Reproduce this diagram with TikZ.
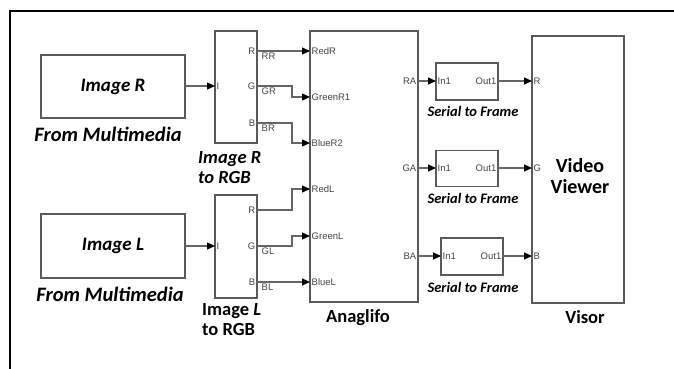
\documentclass[tikz,border=0pt]{standalone}
\usepackage{fontspec}
\setmainfont{Carlito}
\newfontfamily\portfont{Liberation Sans}
\usetikzlibrary{arrows.meta,positioning}
\definecolor{wiregray}{HTML}{666666}
\definecolor{boxgray}{HTML}{5A5A5A}
\definecolor{portgray}{HTML}{444444}
\tikzset{
  block/.style={draw=boxgray,line width=1.1pt,fill=white,inner sep=0pt},
  port/.style={font=\portfont\fontsize{9.5}{10}\selectfont,text=portgray,inner sep=1.5pt},
  wire/.style={draw=wiregray,line width=1.1pt,-{Triangle[length=8pt,width=7pt,fill=black,color=black]}},
  caption/.style={font=\fontsize{18.5}{20}\selectfont\bfseries,inner sep=0pt,align=left},
  scap/.style={font=\fontsize{14.5}{16}\selectfont\bfseries\itshape,inner sep=0pt}
}
\begin{document}
\begin{tikzpicture}[x=1pt,y=-1pt]
\useasboundingbox (0,0) rectangle (674,369);
% frame
\draw[line width=1.6pt] (10,369) -- (10,11) -- (674,11);
% blocks
\node[block,minimum width=144pt,minimum height=63pt,font=\fontsize{19}{20}\selectfont\bfseries\itshape] (imgR) at (113,86.5) {Image R};
\node[block,minimum width=144pt,minimum height=64pt,font=\fontsize{19}{20}\selectfont\bfseries\itshape] (imgL) at (113,246) {Image L};
\node[block,minimum width=42pt,minimum height=112pt] (rgbR) at (236,87) {};
\node[block,minimum width=42pt,minimum height=103pt] (rgbL) at (236,246.5) {};
\node[block,minimum width=108pt,minimum height=271pt] (anag) at (364,166.5) {};
\node[block,minimum width=62pt,minimum height=37pt] (sfA) at (467,81.5) {};
\node[block,minimum width=62pt,minimum height=36pt] (sfB) at (467,168.5) {};
\node[block,minimum width=62pt,minimum height=37pt] (sfC) at (472,256.5) {};
\node[block,minimum width=92pt,minimum height=267pt] (view) at (578,169.5) {};
% captions
\node[caption,font=\fontsize{20.5}{22}\selectfont\bfseries\itshape] (capimgR) at (108,134) {From Multimedia};
\node[caption,font=\fontsize{20.5}{22}\selectfont\bfseries\itshape] (capimgL) at (110,294) {From Multimedia};
\node[caption,anchor=west,font=\fontsize{18.5}{20}\selectfont\bfseries\itshape] (caprgbR) at (198,168) {Image R\\to RGB};
\node[caption,anchor=west] (caprgbL) at (202,320) {Image \textit{L}\\to RGB};
\node[caption] (capanag) at (358,318) {Anaglifo};
\node[scap] (capsfA) at (473,111) {Serial to Frame};
\node[scap] (capsfB) at (473,198) {Serial to Frame};
\node[scap] (capsfC) at (473,287) {Serial to Frame};
\node[caption] (capview) at (585,317) {Visor};
\node[caption,align=center,font=\fontsize{20}{21}\selectfont\bfseries] (txtview) at (580,176) {Video\\Viewer};
% ports
\coordinate (imgRout) at (185,86);
\coordinate (imgLout) at (185,246);
\coordinate (rgbRin) at (215,86);
\coordinate (rgbLin) at (215,246);
\coordinate (rgbRr) at (257,51);
\coordinate (rgbRg) at (257,86);
\coordinate (rgbRb) at (257,123);
\coordinate (rgbLr) at (257,210);
\coordinate (rgbLg) at (257,246);
\coordinate (rgbLb) at (257,282);
\coordinate (inRedR) at (310,51);
\coordinate (inGreenR) at (310,97);
\coordinate (inBlueR) at (310,143);
\coordinate (inRedL) at (310,189);
\coordinate (inGreenL) at (310,236);
\coordinate (inBlueL) at (310,282);
\coordinate (outRA) at (418,81);
\coordinate (outGA) at (418,168);
\coordinate (outBA) at (418,256);
\coordinate (sfAin) at (436,81);
\coordinate (sfBin) at (436,168);
\coordinate (sfCin) at (441,256);
\coordinate (sfAout) at (498,81);
\coordinate (sfBout) at (498,168);
\coordinate (sfCout) at (503,256);
\coordinate (viewR) at (532,81);
\coordinate (viewG) at (532,168);
\coordinate (viewB) at (532,256);
% port labels
\node[port,right] (lI1) at (rgbRin) {I};
\node[port,right] (lI2) at (rgbLin) {I};
\foreach \p/\t in {rgbRr/R,rgbRg/G,rgbRb/B,rgbLr/R,rgbLg/G,rgbLb/B,outRA/RA,outGA/GA,outBA/BA}
  \node[port,left] (l\p) at (\p) {\t};
\foreach \p/\t in {inRedR/RedR,inGreenR/GreenR1,inBlueR/BlueR2,inRedL/RedL,inGreenL/GreenL,inBlueL/BlueL,sfAin/In1,sfBin/In1,sfCin/In1,viewR/R,viewG/G,viewB/B}
  \node[port,right] (l\p) at (\p) {\t};
\foreach \p in {sfAout,sfBout,sfCout}
  \node[port,left] (l\p) at (\p) {Out1};
% wires
\draw[wire] (imgRout) -- (rgbRin);
\draw[wire] (imgLout) -- (rgbLin);
\draw[wire] (rgbRr) -- (inRedR);
\draw[wire] (rgbRg) -- ++(35,0) |- (inGreenR);
\draw[wire] (rgbRb) -- ++(35,0) |- (inBlueR);
\draw[wire] (rgbLr) -- ++(35,0) |- (inRedL);
\draw[wire] (rgbLg) -- ++(35,0) |- (inGreenL);
\draw[wire] (rgbLb) -- (inBlueL);
\foreach \p/\t in {rgbRr/RR,rgbRg/GR,rgbRb/BR,rgbLg/GL,rgbLb/BL}
  \node[port,below right,xshift=3pt] (w\p) at (\p) {\t};
\draw[wire] (outRA) -- (sfAin);
\draw[wire] (outGA) -- (sfBin);
\draw[wire] (outBA) -- (sfCin);
\draw[wire] (sfAout) -- (viewR);
\draw[wire] (sfBout) -- (viewG);
\draw[wire] (sfCout) -- (viewB);
\end{tikzpicture}
\end{document}
